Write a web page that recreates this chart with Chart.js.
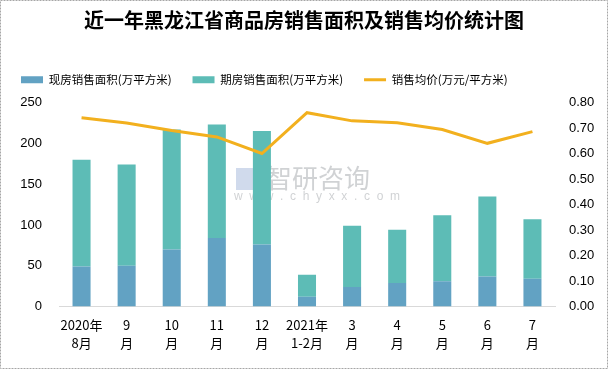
<!DOCTYPE html>
<html>
<head>
<meta charset="utf-8">
<script src="https://cdn.jsdelivr.net/npm/chart.js@4"></script>
<style>
  body { margin: 0; background: #fff; }
  #wrap { width: 608px; height: 369px; position: relative; }
</style>
</head>
<body>
<div id="wrap"><canvas id="areaPriceChart" width="608" height="369"></canvas></div>
<script>
var months = [['2020年', '8月'], ['9', '月'], ['10', '月'], ['11', '月'], ['12', '月'], ['2021年', '1-2月'],
    ['3', '月'], ['4', '月'], ['5', '月'], ['6', '月'], ['7', '月']];
var existingArea = [49, 50, 70, 84, 76, 12, 24, 29, 31, 37, 34];
var futuresArea = [131, 124, 147, 139, 139, 27, 75, 65, 81, 98, 73];
var avgPrice = [0.74, 0.72, 0.69, 0.665, 0.60, 0.76, 0.728, 0.721, 0.694, 0.64, 0.686];

var fontFamily = '"Noto Sans CJK SC", "Liberation Sans", sans-serif';

// frame + watermark
var decor = {
    id: 'decor',
    beforeDraw: function (chart) {
        var c = chart.ctx;
        c.save();
        c.fillStyle = 'rgba(150,155,160,0.45)';
        c.font = '26px ' + fontFamily;
        c.textBaseline = 'middle';
        c.fillText('智研咨询', 266, 178);
        c.font = '12px "Liberation Sans", sans-serif';
        c.fillText('w  w  w  .  c  h  y  x  x  .  c  o  m', 234, 197);
        c.fillStyle = 'rgba(120,150,200,0.35)';
        c.fillRect(236, 168, 22, 22);
        c.restore();
    },
    afterDraw: function (chart) {
        var c = chart.ctx;
        c.save();
        c.strokeStyle = '#a6a6a6';
        c.setLineDash([2, 1]);
        c.strokeRect(0.5, 0.5, chart.width - 1, chart.height - 1);
        c.restore();
    }
};

// empty box between legend and plot, for the extra gap
var spacer = {
    id: 'spacer',
    beforeInit: function (chart) {
        Chart.layouts.addBox(chart, {
            position: 'top',
            weight: 500,
            fullSize: true,
            options: {},
            isHorizontal: function () { return true; },
            update: function (maxWidth) { this.width = maxWidth; this.height = 7; },
            getPadding: function () { return { top: 0, left: 0, bottom: 0, right: 0 }; },
            draw: function () {}
        });
    }
};

var ctx = document.getElementById('areaPriceChart').getContext('2d');
var areaPriceChart = new Chart(ctx, {
    type: 'bar',
    data: {
        labels: months,
        datasets: [{
            label: '现房销售面积(万平方米)',
            data: existingArea,
            backgroundColor: '#62a2c3',
            stack: 'area',
            yAxisID: 'y',
            order: 1,
            barPercentage: 0.4,
            categoryPercentage: 1
        }, {
            label: '期房销售面积(万平方米)',
            data: futuresArea,
            backgroundColor: '#5dbcb6',
            stack: 'area',
            yAxisID: 'y',
            order: 1,
            barPercentage: 0.4,
            categoryPercentage: 1
        }, {
            type: 'line',
            label: '销售均价(万元/平方米)',
            data: avgPrice,
            borderColor: '#f2b01e',
            backgroundColor: '#f2b01e',
            borderWidth: 3,
            pointRadius: 0,
            tension: 0,
            yAxisID: 'y1',
            order: 0
        }]
    },
    options: {
        responsive: false,
        animation: false,
        layout: { padding: { left: 0, right: 0, top: 0, bottom: 8 } },
        plugins: {
            title: {
                display: true,
                text: '近一年黑龙江省商品房销售面积及销售均价统计图',
                color: '#000',
                font: { family: fontFamily, size: 20, weight: 'bold' },
                padding: { top: 8, bottom: 21 }
            },
            legend: {
                align: 'start',
                labels: {
                    color: '#000',
                    font: { family: fontFamily, size: 11.5 },
                    usePointStyle: true,
                    pointStyleWidth: 22,
                    boxHeight: 7,
                    padding: 21,
                    sort: function (a, b) { return a.datasetIndex - b.datasetIndex; },
                    generateLabels: function (chart) {
                        var items = Chart.defaults.plugins.legend.labels.generateLabels(chart);
                        items.forEach(function (it) {
                            it.pointStyle = it.datasetIndex === 2 ? 'line' : 'rect';
                            if (it.datasetIndex !== 2) it.lineWidth = 0;
                        });
                        return items;
                    }
                }
            },
            tooltip: { enabled: false }
        },
        scales: {
            x: {
                stacked: true,
                grid: { display: false, drawTicks: false },
                border: { color: '#d9d9d9' },
                ticks: {
                    color: '#000',
                    font: { family: fontFamily, size: 13, lineHeight: 1.4 },
                    maxRotation: 0,
                    autoSkip: false,
                    padding: 9
                }
            },
            y: {
                stacked: true,
                min: 0,
                max: 250,
                position: 'left',
                grid: { display: false, drawTicks: false },
                border: { display: false },
                ticks: { stepSize: 50, color: '#000', font: { family: '"Liberation Sans", sans-serif', size: 13 }, padding: 17 },
                afterFit: function (s) { s.width = 59; }
            },
            y1: {
                min: 0,
                max: 0.8,
                position: 'right',
                grid: { display: false, drawTicks: false },
                border: { display: false },
                ticks: {
                    stepSize: 0.1,
                    autoSkip: false,
                    color: '#000',
                    font: { family: '"Liberation Sans", sans-serif', size: 13 },
                    padding: 14,
                    callback: function (v) { return v.toFixed(2); }
                },
                afterFit: function (s) { s.width = 53; }
            }
        }
    },
    plugins: [decor, spacer]
});
</script>
</body>
</html>
